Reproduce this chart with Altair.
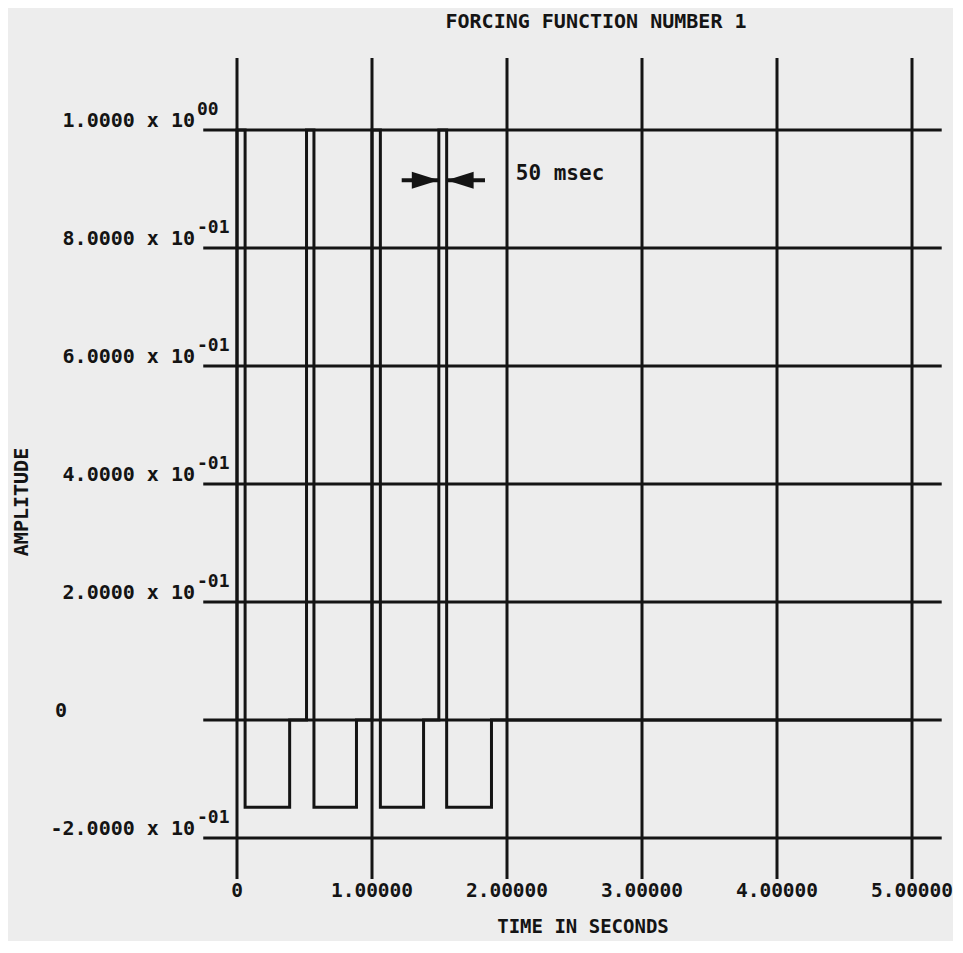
import altair as alt
import pandas as pd

# ---------------- data ----------------
grid_times = [0, 1, 2, 3, 4, 5]
grid_amps = [-0.2, 0.0, 0.2, 0.4, 0.6, 0.8, 1.0]
x_labels = ["0", "1.00000", "2.00000", "3.00000", "4.00000", "5.00000"]
y_mantissas = ["-2.0000 x 10", "0", "2.0000 x 10", "4.0000 x 10",
               "6.0000 x 10", "8.0000 x 10", "1.0000 x 10"]
y_exponents = ["-01", "", "-01", "-01", "-01", "-01", "00"]

# forcing function (step trace), time in s, amplitude
signal_time = [0.0, 0.0, 0.06, 0.06, 0.39, 0.39,
               0.515, 0.515, 0.57, 0.57, 0.885, 0.885,
               1.0, 1.0, 1.062, 1.062, 1.382, 1.382,
               1.495, 1.495, 1.553, 1.553, 1.885, 1.885,
               5.0]
signal_amp = [0.0, 1.0, 1.0, -0.148, -0.148, 0.0,
              0.0, 1.0, 1.0, -0.148, -0.148, 0.0,
              0.0, 1.0, 1.0, -0.148, -0.148, 0.0,
              0.0, 1.0, 1.0, -0.148, -0.148, 0.0,
              0.0]

# "50 msec" dimension arrows on the 4th pulse
arrow_tip_time = [1.495, 1.553]
arrow_tail_time = [1.22, 1.837]
arrow_amp = [0.915, 0.915]
note_text = ["50 msec"]
note_time = [2.065]
note_amp = [0.926]

title_text = "FORCING FUNCTION NUMBER 1"
x_title = "TIME IN SECONDS"
y_title = "AMPLITUDE"

# ---------------- layout ----------------
W, H = 945, 933
PX0, PXU = 229.0, 135.0   # plot px of t=0, px per second
PY0, PYU = 712.0, 590.0   # plot px of amp=0, px per unit amplitude
XDOM = [-PX0 / PXU, (W - PX0) / PXU]
YDOM = [(PY0 - H) / PYU, PY0 / PYU]
xs = alt.Scale(domain=XDOM, nice=False, zero=False)
ys = alt.Scale(domain=YDOM, nice=False, zero=False)

HGRID_T0, HGRID_T1 = -0.25, 5.22
VGRID_A0, VGRID_A1 = -0.2695, 1.122

INK = "#141414"
FONT = "DejaVu Sans Mono"
WEIGHT = "bold"

hgrid_df = pd.DataFrame({"a": grid_amps, "t0": HGRID_T0, "t1": HGRID_T1})
vgrid_df = pd.DataFrame({"t": grid_times, "a0": VGRID_A0, "a1": VGRID_A1})
sig_df = pd.DataFrame({"t": signal_time, "a": signal_amp,
                       "i": list(range(len(signal_time)))})
xl_df = pd.DataFrame({"t": grid_times, "lab": x_labels})
yl_df = pd.DataFrame({"a": grid_amps, "m": y_mantissas, "e": y_exponents})
arr_df = pd.DataFrame({"tip": arrow_tip_time, "tail": arrow_tail_time,
                       "a": arrow_amp, "side": ["L", "R"]})
note_df = pd.DataFrame({"t": note_time, "a": note_amp, "txt": note_text})

hgrid = alt.Chart(hgrid_df).mark_rule(strokeWidth=3, color=INK).encode(
    x=alt.X("t0:Q", scale=xs, axis=None), x2="t1:Q",
    y=alt.Y("a:Q", scale=ys, axis=None))

vgrid = alt.Chart(vgrid_df).mark_rule(strokeWidth=3, color=INK).encode(
    x=alt.X("t:Q", scale=xs, axis=None),
    y=alt.Y("a0:Q", scale=ys, axis=None), y2="a1:Q")

signal = alt.Chart(sig_df).mark_line(strokeWidth=3, color=INK,
                                     strokeJoin="miter").encode(
    x=alt.X("t:Q", scale=xs, axis=None),
    y=alt.Y("a:Q", scale=ys, axis=None),
    order="i:Q")

shafts = alt.Chart(arr_df).mark_rule(strokeWidth=4, color=INK).encode(
    x=alt.X("tail:Q", scale=xs, axis=None), x2="tip:Q",
    y=alt.Y("a:Q", scale=ys, axis=None))

head_r = alt.Chart(arr_df).transform_filter(alt.datum.side == "L").mark_point(
    shape="M0,0L-2,-0.63L-2,0.63Z", size=729, filled=True, opacity=1,
    color=INK, strokeWidth=0).encode(
    x=alt.X("tip:Q", scale=xs, axis=None),
    y=alt.Y("a:Q", scale=ys, axis=None))

head_l = alt.Chart(arr_df).transform_filter(alt.datum.side == "R").mark_point(
    shape="M0,0L2,-0.63L2,0.63Z", size=729, filled=True, opacity=1,
    color=INK, strokeWidth=0).encode(
    x=alt.X("tip:Q", scale=xs, axis=None),
    y=alt.Y("a:Q", scale=ys, axis=None))

note = alt.Chart(note_df).mark_text(font=FONT, fontSize=21, fontWeight=WEIGHT,
                                    color=INK, align="left",
                                    baseline="middle").encode(
    x=alt.X("t:Q", scale=xs, axis=None),
    y=alt.Y("a:Q", scale=ys, axis=None), text="txt:N")

ylab_m = alt.Chart(yl_df).transform_filter(alt.datum.e != "").mark_text(
    font=FONT, fontSize=20, fontWeight=WEIGHT, color=INK, align="right",
    baseline="alphabetic", dy=-3).encode(
    x=alt.value(187), y=alt.Y("a:Q", scale=ys, axis=None), text="m:N")

ylab_e = alt.Chart(yl_df).transform_filter(alt.datum.e != "").mark_text(
    font=FONT, fontSize=18, fontWeight=WEIGHT, color=INK, align="left",
    baseline="alphabetic", dy=-15).encode(
    x=alt.value(189), y=alt.Y("a:Q", scale=ys, axis=None), text="e:N")

ylab_0 = alt.Chart(yl_df).transform_filter(alt.datum.e == "").mark_text(
    font=FONT, fontSize=20, fontWeight=WEIGHT, color=INK, align="left",
    baseline="alphabetic", dy=-3).encode(
    x=alt.value(47), y=alt.Y("a:Q", scale=ys, axis=None), text="m:N")

xlab = alt.Chart(xl_df).mark_text(font=FONT, fontSize=19.5, fontWeight=WEIGHT,
                                  color=INK, align="center",
                                  baseline="middle").encode(
    x=alt.X("t:Q", scale=xs, axis=None), y=alt.value(883), text="lab:N")

ttl_df = pd.DataFrame({"txt": [title_text]})
xt_df = pd.DataFrame({"txt": [x_title]})
yt_df = pd.DataFrame({"txt": [y_title]})

ttl = alt.Chart(ttl_df).mark_text(font=FONT, fontSize=20, fontWeight=WEIGHT,
                                  color=INK, align="center",
                                  baseline="middle").encode(
    x=alt.value(588), y=alt.value(14), text="txt:N")
xt = alt.Chart(xt_df).mark_text(font=FONT, fontSize=19, fontWeight=WEIGHT,
                                color=INK, align="center",
                                baseline="middle").encode(
    x=alt.value(575), y=alt.value(919), text="txt:N")
yt = alt.Chart(yt_df).mark_text(font=FONT, fontSize=20, fontWeight=WEIGHT,
                                color=INK, angle=270, align="center",
                                baseline="middle").encode(
    x=alt.value(14), y=alt.value(494), text="txt:N")

chart = alt.layer(hgrid, vgrid, signal, shafts, head_r, head_l, note,
                  ylab_m, ylab_e, ylab_0, xlab, ttl, xt, yt).properties(
    width=W, height=H,
    autosize=alt.AutoSizeParams(type="none"),
    padding=0,
    background="#ededed",
).configure_view(stroke=None)

chart.save("out.html", embed_options={"renderer": "svg", "actions": False})
